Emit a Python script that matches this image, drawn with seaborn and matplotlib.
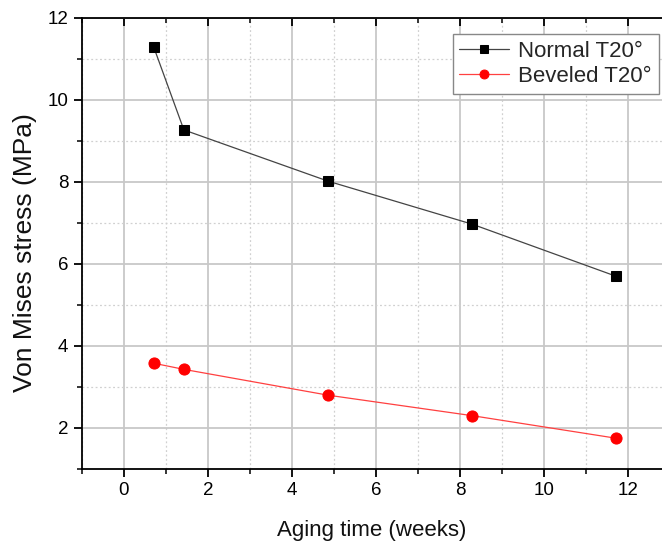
import matplotlib
matplotlib.use("Agg")
import matplotlib.pyplot as plt
import seaborn as sns
import pandas as pd
from matplotlib.ticker import MultipleLocator

weeks = [0.71, 1.43, 4.86, 8.29, 11.71]
normal = [11.3, 9.27, 8.02, 6.97, 5.7]
beveled = [3.58, 3.43, 2.8, 2.3, 1.75]
series_names = ["Normal T20°", "Beveled T20°"]

df = pd.DataFrame({
    "weeks": weeks * 2,
    "stress": normal + beveled,
    "series": [series_names[0]] * len(weeks) + [series_names[1]] * len(weeks),
})

sns.set_style("white")
plt.rcParams['font.family'] = ['Liberation Sans', 'DejaVu Sans']

fig = plt.figure(figsize=(6.62, 5.42), dpi=100)
ax = fig.add_axes([0.1234, 0.1347, 0.8766, 0.8321])

ax.set_xlim(-1, 12.8)
ax.set_ylim(1, 12)
ax.xaxis.set_major_locator(MultipleLocator(2))
ax.xaxis.set_minor_locator(MultipleLocator(1))
ax.yaxis.set_major_locator(MultipleLocator(2))
ax.yaxis.set_minor_locator(MultipleLocator(1))

ax.grid(True, which='major', color='#c8c8c8', linewidth=1.3, linestyle='-')
ax.grid(True, which='minor', color='#d0d0d0', linewidth=0.9, linestyle=(0, (1.5, 2)))
ax.set_axisbelow(True)

sub_n = df[df.series == series_names[0]]
sub_b = df[df.series == series_names[1]]
sns.lineplot(data=sub_n, x="weeks", y="stress", ax=ax, color='#444444', linewidth=0.9,
             marker='s', markersize=7, markerfacecolor='black', markeredgecolor='black',
             label=series_names[0])
sns.lineplot(data=sub_b, x="weeks", y="stress", ax=ax, color='#ff4040', linewidth=0.9,
             marker='o', markersize=8, markerfacecolor='#ff0000', markeredgecolor='#ff0000',
             label=series_names[1])

for s in ['left', 'bottom', 'top']:
    ax.spines[s].set_visible(True)
    ax.spines[s].set_color('black')
    ax.spines[s].set_linewidth(1.3)
ax.spines['right'].set_visible(False)

ax.tick_params(axis='both', which='major', direction='out', length=6, width=1.3,
               labelsize=13.5, colors='black', bottom=True, left=True)
ax.tick_params(axis='both', which='minor', direction='out', length=3.5, width=1.3,
               bottom=True, left=True)
ax.xaxis.set_tick_params(which='both', top=True, labeltop=False)
for t in ax.xaxis.get_major_ticks() + ax.xaxis.get_minor_ticks():
    t.tick2line.set_marker(matplotlib.lines.TICKDOWN)

ax.set_xlabel("Aging time (weeks)", fontsize=16, labelpad=15, color='#111111')
ax.set_ylabel("Von Mises stress (MPa)", fontsize=19, color='#111111')
ax.yaxis.set_label_coords(-0.077, 0.48)

leg = ax.legend(loc='upper right', bbox_to_anchor=(0.994, 0.964), fontsize=16, frameon=True,
                fancybox=False, edgecolor='#888888', framealpha=1, handlelength=2.25,
                borderpad=0.3, labelspacing=0.18, handletextpad=0.4, borderaxespad=0,
                markerscale=0.8)
leg.get_frame().set_linewidth(1.0)

fig.savefig("out.png", dpi=100)
